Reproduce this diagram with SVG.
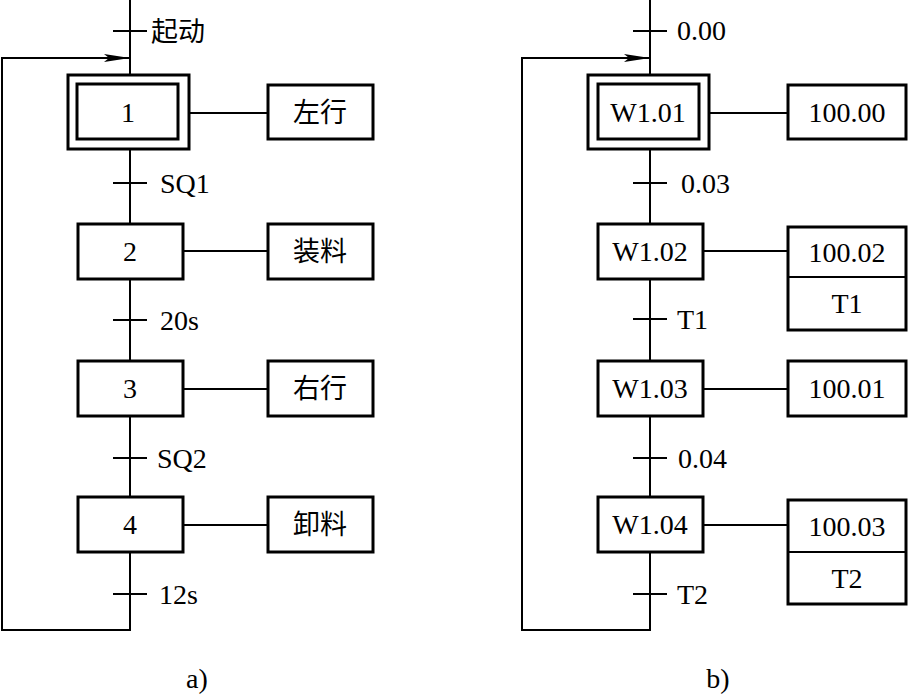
<svg xmlns="http://www.w3.org/2000/svg" width="908" height="695" viewBox="0 0 908 695">
<style>
  .box { fill: #fff; stroke: #000; stroke-width: 3; }
  .ln { fill: none; stroke: #000; stroke-width: 2; }
  .c { text-anchor: middle; }
</style>
<defs>
  <marker id="arr" viewBox="0 0 26 8" refX="26" refY="4" markerWidth="26" markerHeight="8" markerUnits="userSpaceOnUse" orient="auto">
    <path d="M0 0 L26 4 L0 8 L5 4 Z" fill="#000"/>
  </marker>
</defs>
<rect width="908" height="695" fill="#fff"/>

<g id="connectors">
  <path class="ln" d="M130 0 V75 M130 149 V224 M130 279 V361 M130 416 V497"/>
  <path class="ln" d="M130 552 V630 H2 V58 H130" marker-end="url(#arr)"/>
  <path class="ln" d="M113 31 H147 M113 183 H147 M113 320 H147 M113 458 H147 M113 594 H147"/>
  <path class="ln" d="M189 113 H268 M183 251 H268 M183 389 H268 M183 525 H268"/>
  <path class="ln" d="M650 0 V75 M650 149 V224 M650 279 V361 M650 416 V497"/>
  <path class="ln" d="M650 552 V630 H522 V58 H650" marker-end="url(#arr)"/>
  <path class="ln" d="M633 31 H667 M633 183 H667 M633 319 H667 M633 458 H667 M633 594 H667"/>
  <path class="ln" d="M709 113 H788 M703 251 H788 M703 389 H788 M703 525 H788"/>
</g>

<g font-family="Liberation Serif, Tinos, Times New Roman, DejaVu Serif, Noto Serif, serif" font-size="28" fill="#000">
<g id="trans-labels">
  <text font-family="Noto Sans CJK SC, sans-serif" font-size="27" x="151" y="41">起动</text>
  <text x="160" y="193">SQ1</text>
  <text x="160" y="330">20s</text>
  <text x="157" y="468">SQ2</text>
  <text x="159" y="604">12s</text>
  <text x="677" y="40">0.00</text>
  <text x="681" y="193">0.03</text>
  <text x="677" y="329">T1</text>
  <text x="678" y="468">0.04</text>
  <text x="677" y="604">T2</text>
</g>

<g id="step1">
  <rect class="box" x="68" y="75" width="121" height="74"/>
  <rect class="box" x="77" y="84" width="101" height="55"/>
  <text class="c" x="128" y="122">1</text>
</g>
<g id="act1" font-family="Noto Sans CJK SC, sans-serif" font-size="27">
  <rect class="box" x="268" y="85" width="105" height="54"/>
  <text class="c" x="320" y="122">左行</text>
</g>
<g id="step2">
  <rect class="box" x="78" y="224" width="105" height="55"/>
  <text class="c" x="130" y="261">2</text>
</g>
<g id="act2" font-family="Noto Sans CJK SC, sans-serif" font-size="27">
  <rect class="box" x="268" y="224" width="105" height="55"/>
  <text class="c" x="320" y="261">装料</text>
</g>
<g id="step3">
  <rect class="box" x="78" y="361" width="105" height="55"/>
  <text class="c" x="130" y="398">3</text>
</g>
<g id="act3" font-family="Noto Sans CJK SC, sans-serif" font-size="27">
  <rect class="box" x="268" y="361" width="105" height="55"/>
  <text class="c" x="320" y="398">右行</text>
</g>
<g id="step4">
  <rect class="box" x="78" y="497" width="105" height="55"/>
  <text class="c" x="130" y="534">4</text>
</g>
<g id="act4" font-family="Noto Sans CJK SC, sans-serif" font-size="27">
  <rect class="box" x="268" y="497" width="105" height="55"/>
  <text class="c" x="320" y="534">卸料</text>
</g>

<g id="w101">
  <rect class="box" x="588" y="75" width="121" height="74"/>
  <rect class="box" x="598" y="84" width="101" height="55"/>
  <text class="c" x="648" y="122">W1.01</text>
</g>
<g id="a10000">
  <rect class="box" x="788" y="85" width="118" height="54"/>
  <text class="c" x="847" y="122">100.00</text>
</g>
<g id="w102">
  <rect class="box" x="598" y="224" width="105" height="55"/>
  <text class="c" x="650" y="261">W1.02</text>
</g>
<g id="a10002">
  <rect class="box" x="788" y="227" width="118" height="103"/>
  <line class="ln" x1="788" y1="277" x2="906" y2="277"/>
  <text class="c" x="847" y="262">100.02</text>
  <text class="c" x="847" y="313">T1</text>
</g>
<g id="w103">
  <rect class="box" x="598" y="361" width="105" height="55"/>
  <text class="c" x="650" y="398">W1.03</text>
</g>
<g id="a10001">
  <rect class="box" x="788" y="361" width="118" height="55"/>
  <text class="c" x="847" y="398">100.01</text>
</g>
<g id="w104">
  <rect class="box" x="598" y="497" width="105" height="55"/>
  <text class="c" x="650" y="534">W1.04</text>
</g>
<g id="a10003">
  <rect class="box" x="788" y="500" width="118" height="104"/>
  <line class="ln" x1="788" y1="552" x2="906" y2="552"/>
  <text class="c" x="847" y="536">100.03</text>
  <text class="c" x="847" y="588">T2</text>
</g>

<g id="captions">
  <text class="c" x="197" y="688">a)</text>
  <text class="c" x="718" y="688">b)</text>
</g>
</g>
</svg>
